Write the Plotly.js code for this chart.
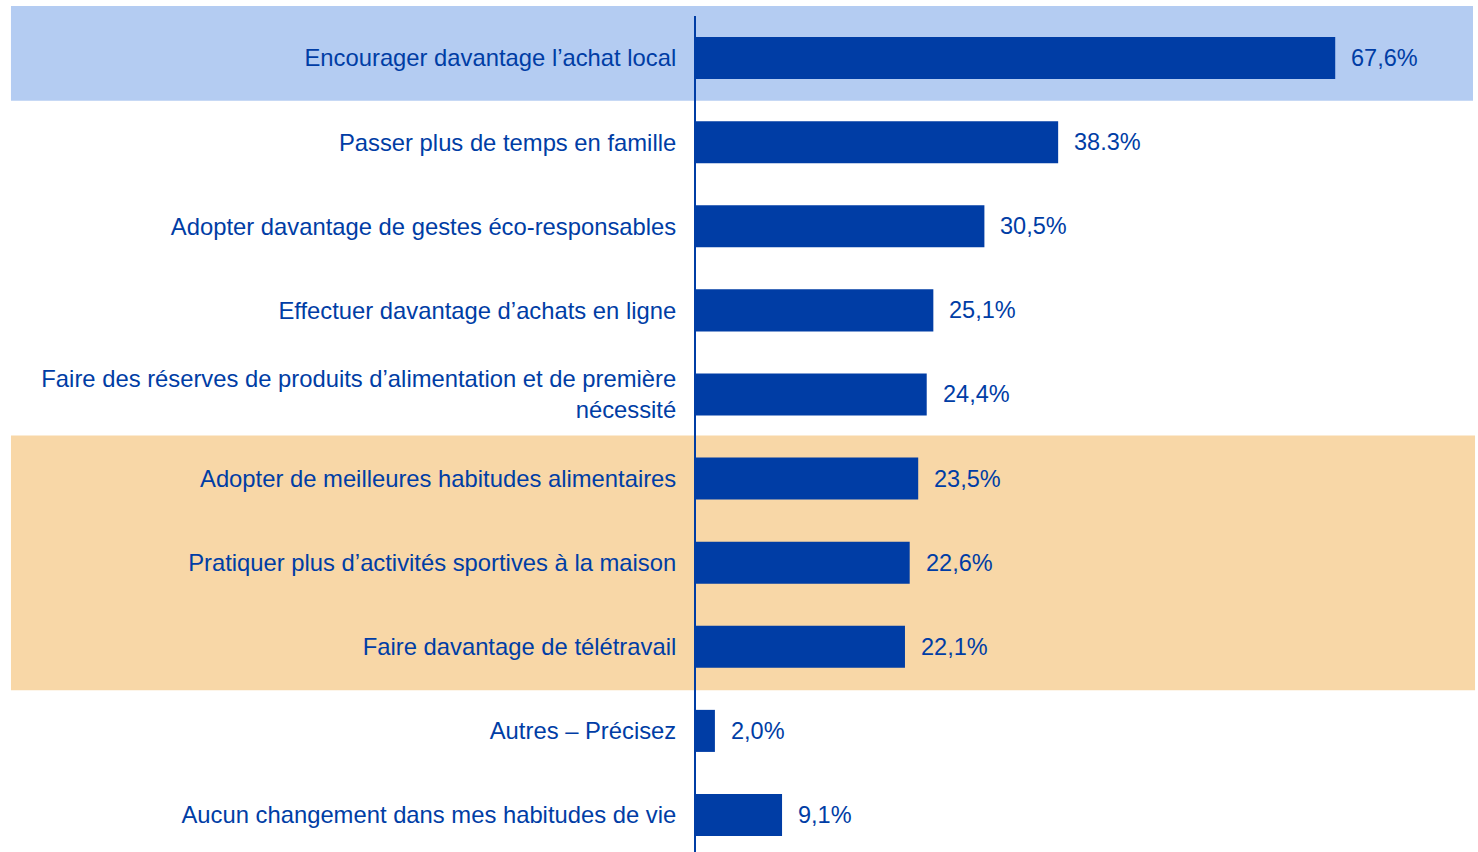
<!DOCTYPE html>
<html>
<head>
<meta charset="utf-8">
<script src="https://cdn.plot.ly/plotly-3.0.1.min.js"></script>
<style>html,body{margin:0;padding:0;background:#fff;}#chart{width:1478px;height:852px;}</style>
</head>
<body>
<div id="chart"></div>
<script>
const categories = [
  "Encourager davantage l’achat local",
  "Passer plus de temps en famille",
  "Adopter davantage de gestes éco-responsables",
  "Effectuer davantage d’achats en ligne",
  "Faire des réserves de produits d’alimentation et de première<br>nécessité",
  "Adopter de meilleures habitudes alimentaires",
  "Pratiquer plus d’activités sportives à la maison",
  "Faire davantage de télétravail",
  "Autres – Précisez",
  "Aucun changement dans mes habitudes de vie"
];
const values = [67.6, 38.3, 30.5, 25.1, 24.4, 23.5, 22.6, 22.1, 2.0, 9.1];
const valueLabels = ["67,6%", "38.3%", "30,5%", "25,1%", "24,4%", "23,5%", "22,6%", "22,1%", "2,0%", "9,1%"];

const BLUE = "#003DA5";
const FONT = "Liberation Sans, Arial, sans-serif";

const trace = {
  type: "bar",
  orientation: "h",
  x: values,
  y: categories.map((c, i) => i),
  width: 0.5,
  marker: {color: BLUE},
  hoverinfo: "none"
};

const annotations = values.map((v, i) => ({
  x: v, y: i, xref: "x", yref: "y",
  text: valueLabels[i], showarrow: false,
  xanchor: "left", yanchor: "middle", xshift: 14,
  font: {family: FONT, size: 23.5, color: BLUE}
}));

const layout = {
  width: 1478, height: 852,
  margin: {l: 696, r: 0, t: 16, b: 0, pad: 0},
  paper_bgcolor: "#ffffff",
  plot_bgcolor: "rgba(0,0,0,0)",
  showlegend: false,
  bargap: 0.5,
  xaxis: {range: [0, 82.7], showgrid: false, zeroline: false, showticklabels: false, showline: false, ticks: ""},
  yaxis: {
    range: [9.44, -0.5],
    tickmode: "array",
    tickvals: categories.map((c, i) => i),
    ticktext: categories,
    showgrid: false, zeroline: false,
    showline: true, linecolor: BLUE, linewidth: 2,
    ticks: "outside", ticklen: 13, tickcolor: "rgba(0,0,0,0)",
    tickfont: {family: FONT, size: 23.8, color: BLUE}
  },
  shapes: [
    {type: "rect", xref: "paper", yref: "paper", x0: -0.876, x1: 0.9936, y0: 0.8985, y1: 1.012,
     fillcolor: "#B4CCF2", line: {width: 0}, layer: "below"},
    {type: "rect", xref: "paper", yref: "paper", x0: -0.876, x1: 0.9962, y0: 0.1935, y1: 0.4982,
     fillcolor: "#F8D7A7", line: {width: 0}, layer: "below"}
  ],
  annotations: annotations
};

Plotly.newPlot("chart", [trace], layout, {staticPlot: true, displayModeBar: false});
</script>
</body>
</html>
